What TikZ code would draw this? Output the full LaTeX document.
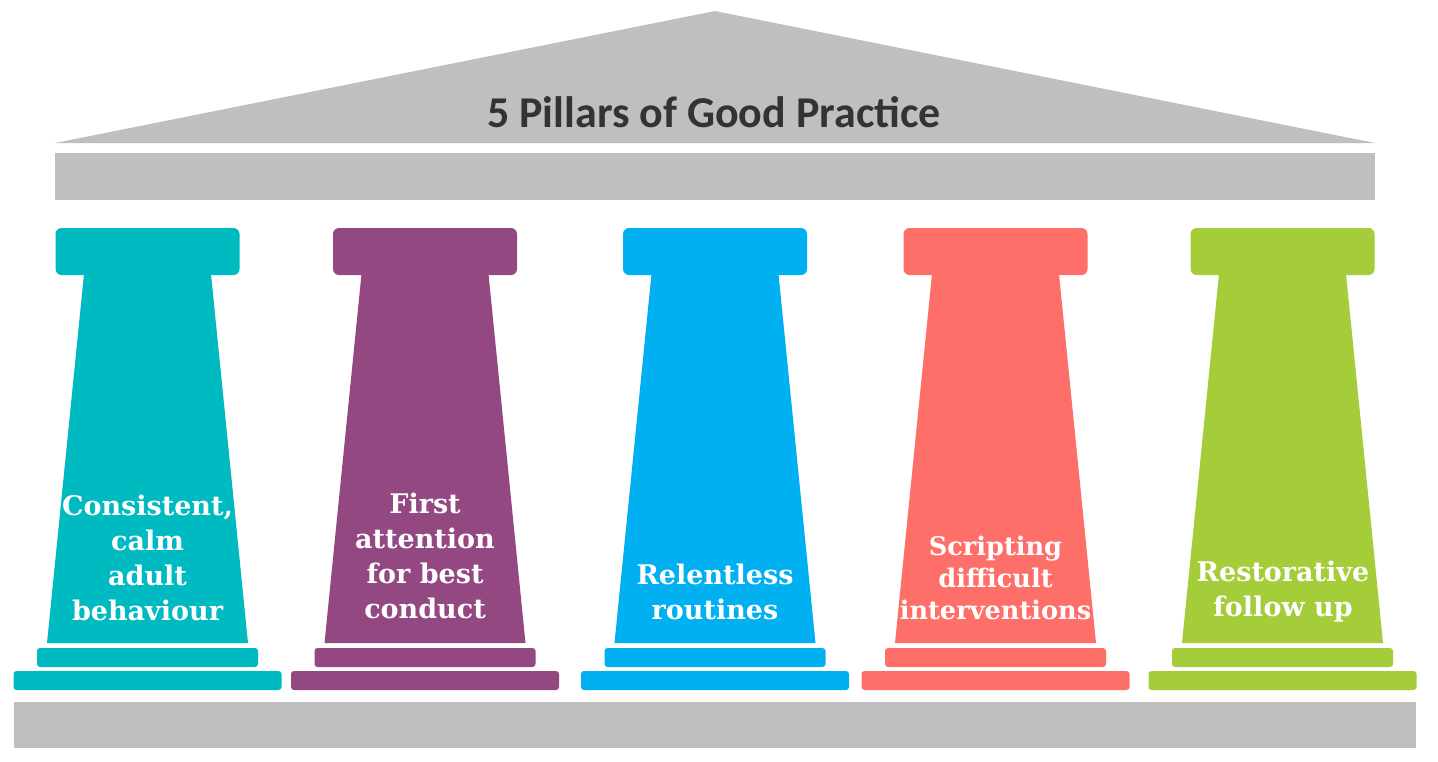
\documentclass[tikz,border=0pt]{standalone}
\usepackage{fontspec}
\newfontfamily\titlefont{Carlito}
\newfontfamily\pillarfont{DejaVu Serif}
\definecolor{roofgray}{HTML}{BFBFBF}
\definecolor{titlegray}{HTML}{333333}
\definecolor{pcA}{HTML}{00BAC2}
\definecolor{pcB}{HTML}{934882}
\definecolor{pcC}{HTML}{00B0F0}
\definecolor{pcD}{HTML}{FD6F68}
\definecolor{pcE}{HTML}{A4CD39}
\tikzset{
  pillartext/.style={text=white, font=\pillarfont\bfseries\fontsize{27}{35}\selectfont, align=center, inner sep=0pt},
  titletext/.style={text=titlegray, font=\titlefont\bfseries\fontsize{44}{48}\selectfont, inner sep=0pt}
}
\begin{document}
\begin{tikzpicture}[x=1pt,y=-1pt]
\useasboundingbox (0,0) rectangle (1438,761);
\fill[white] (0,0) rectangle (1438,761);
% roof
\fill[roofgray] (715,11) -- (1375,143) -- (55,143) -- cycle;
\fill[roofgray] (55,153) rectangle (1375,200);
\node[titletext] (title) at (714,112) {5 Pillars of Good Practice};
% base slab
\fill[roofgray] (14,702) rectangle (1416,748);
% pillars
\foreach \cx/\col in {147.5/pcA, 425/pcB, 715/pcC, 995.5/pcD, 1282.5/pcE} {
  \fill[\col, rounded corners=6] (\cx-92,228) rectangle (\cx+92,275);
  \fill[\col] (\cx-63.5,274) -- (\cx+63.5,274) -- (\cx+100.5,643) -- (\cx-100.5,643) -- cycle;
  \fill[\col, rounded corners=3] (\cx-110.5,648) rectangle (\cx+110.5,667);
  \fill[\col, rounded corners=3] (\cx-134,671) rectangle (\cx+134,690);
}
\node[pillartext] (t1) at (147.5,558) {Consistent,\\calm\\adult\\behaviour};
\node[pillartext] (t2) at (425,556) {First\\attention\\for best\\conduct};
\node[pillartext] (t3) at (715,592) {Relentless\\routines};
\node[pillartext, font=\pillarfont\bfseries\fontsize{25.6}{32}\selectfont] (t4) at (995.5,578) {Scripting\\difficult\\interventions};
\node[pillartext] (t5) at (1283,592) {Restorative\\follow up};
\end{tikzpicture}
\end{document}
